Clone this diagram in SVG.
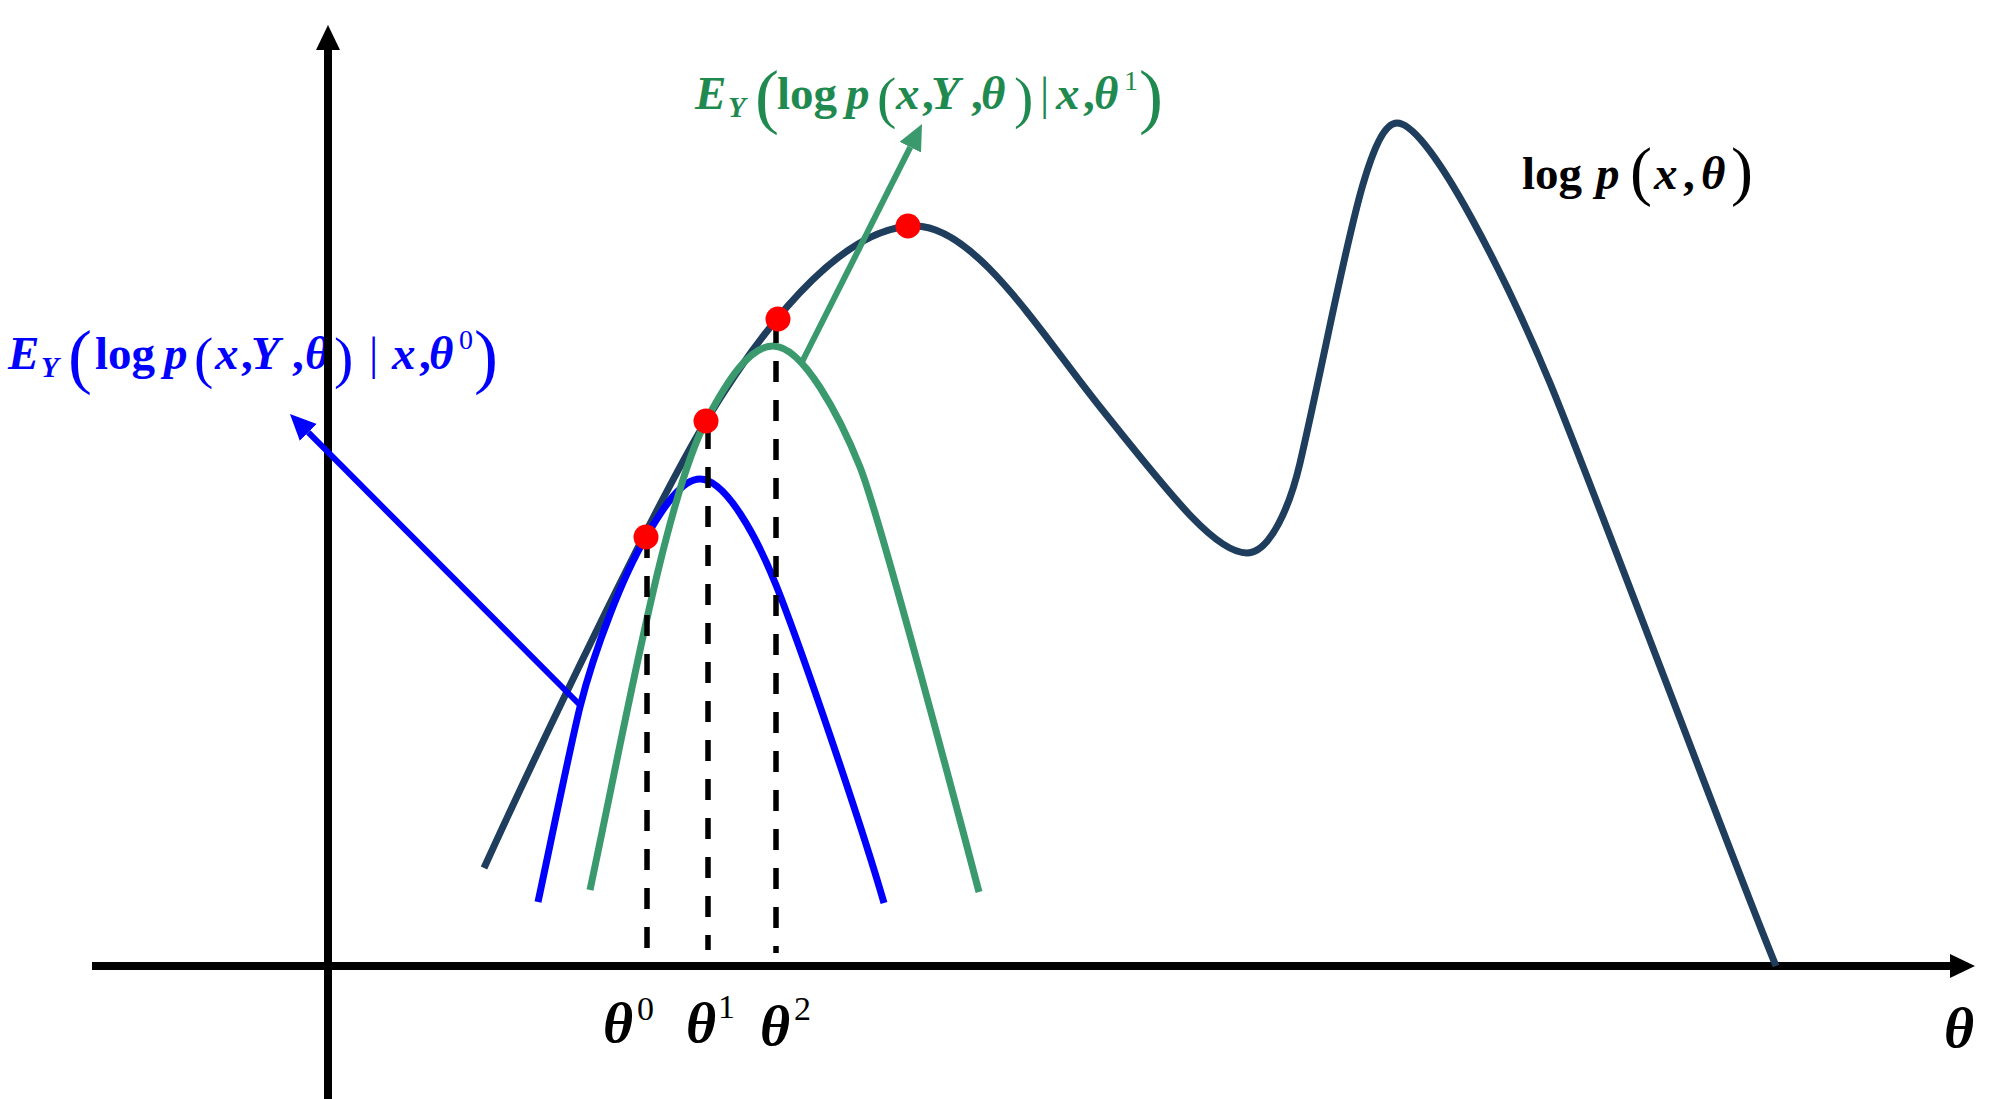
<svg xmlns="http://www.w3.org/2000/svg" width="2000" height="1099" viewBox="0 0 2000 1099">
  <style>
    .lbl { font-family: "Liberation Serif", "Times New Roman", serif; }
    .bi { font-weight: bold; font-style: italic; font-size: 47px; }
    .b { font-weight: bold; font-size: 47px; }
    .r { font-size: 46px; }
    .sub { font-weight: bold; font-style: italic; font-size: 29px; }
    .sup { font-size: 28px; }
    .bigp { font-size: 72px; }
    .midp { font-size: 58px; }
    .bigp2 { font-size: 66px; }
    .th { font-weight: bold; font-style: italic; font-size: 58px; }
    .thsup { font-size: 34px; }
    .axis { stroke: #000; stroke-width: 8; fill: none; }
    .curve { fill: none; stroke-width: 7; stroke-linecap: butt; stroke-linejoin: round; }
    .dash { stroke: #000; stroke-width: 5.5; stroke-dasharray: 21 18; fill: none; }
    .dot { fill: #FF0000; }
  </style>
  <defs>
    <marker id="headBlack" markerUnits="userSpaceOnUse" markerWidth="26" markerHeight="26" refX="0" refY="12" orient="auto">
      <path d="M0,0 L25,12 L0,24 z" fill="#000"/>
    </marker>
    <marker id="headBlue" markerUnits="userSpaceOnUse" markerWidth="28" markerHeight="26" refX="0" refY="12" orient="auto">
      <path d="M0,0 L26,12 L0,24 z" fill="#0000FF"/>
    </marker>
    <marker id="headGreen" markerUnits="userSpaceOnUse" markerWidth="28" markerHeight="26" refX="0" refY="12" orient="auto">
      <path d="M0,0 L26,12 L0,24 z" fill="#3A9A6E"/>
    </marker>
  </defs>
  <rect width="2000" height="1099" fill="#FFFFFF"/>

  <!-- Blue label (drawn under the axis) -->
  <g id="label-e-step-0" class="lbl" fill="#0000FF">
    <text class="bi" x="8" y="369">E</text>
    <text class="sub" x="41" y="377">Y</text>
    <text class="bigp" x="68" y="380">(</text>
    <text class="b" x="95" y="369">log</text>
    <text class="bi" x="164" y="369">p</text>
    <text class="midp" x="194" y="377">(</text>
    <text class="bi" x="215" y="369">x</text>
    <text class="b" x="241" y="369">,</text>
    <text class="bi" x="251" y="369">Y</text>
    <text class="b" x="292" y="369">,</text>
    <text class="bi" x="305" y="369">θ</text>
    <text class="midp" x="334" y="377">)</text>
    <text class="r" x="369" y="369">|</text>
    <text class="bi" x="392" y="369">x</text>
    <text class="b" x="419" y="369">,</text>
    <text class="bi" x="429" y="369">θ</text>
    <text class="sup" x="459" y="349">0</text>
    <text class="bigp" x="474" y="380">)</text>
  </g>

  <!-- Axes -->
  <g id="axes">
    <line id="x-axis" class="axis" x1="92" y1="966" x2="1950" y2="966" marker-end="url(#headBlack)"/>
    <line id="y-axis" class="axis" x1="328" y1="1099" x2="328" y2="50" marker-end="url(#headBlack)"/>
  </g>

  <!-- Curves -->
  <g id="curves">
    <path id="log-likelihood" class="curve" stroke="#1F3E5E"
      d="M 484 868 C 534 758, 655 505, 706 421 C 776 305, 850 226, 915 226 C 975 226, 1040 332, 1100 407 C 1170 494.5, 1215 553, 1247 553 C 1270 553, 1290 506, 1300 463 C 1340 290, 1365 123, 1397 123 C 1430 123, 1510 287, 1550 383 C 1590 479, 1740 880, 1776 966"/>
    <path id="q-theta0" class="curve" stroke="#0000FF"
      d="M 538 902 C 549 851, 569 752, 580 707 C 595 647, 624 574, 646 537 C 664 506, 682 479, 700 479 C 725 479, 756 535, 776 585 C 800 645, 860 820, 884 903"/>
    <path id="q-theta1" class="curve" stroke="#3A9A6E"
      d="M 590 890 C 627 716, 666 497, 706 421 C 728 379, 750 346, 773 346 C 803 346, 840 417, 860 467 C 880 517, 964 835, 979 892"/>
  </g>

  <!-- Connectors -->
  <g id="connectors">
    <line id="arrow-blue" x1="580" y1="705" x2="308.3" y2="432.4" stroke="#0000FF" stroke-width="6" marker-end="url(#headBlue)"/>
    <line id="arrow-green" x1="802" y1="362" x2="910.3" y2="147.2" stroke="#3A9A6E" stroke-width="6" marker-end="url(#headGreen)"/>
  </g>

  <!-- Dashed drop lines -->
  <g id="drop-lines">
    <line class="dash" x1="647" y1="537" x2="647" y2="958"/>
    <line class="dash" x1="708" y1="428" x2="708" y2="950"/>
    <line class="dash" x1="776" y1="322" x2="776" y2="953"/>
  </g>

  <!-- Points -->
  <g id="points">
    <circle id="pt0" class="dot" cx="646" cy="537" r="12.5"/>
    <circle id="pt1" class="dot" cx="706" cy="421" r="12.5"/>
    <circle id="pt2" class="dot" cx="778" cy="319" r="12.5"/>
    <circle id="pt3" class="dot" cx="908" cy="226" r="12.5"/>
  </g>

  <!-- Green label -->
  <g id="label-e-step-1" class="lbl" fill="#1F8A50">
    <text class="bi" x="695" y="109">E</text>
    <text class="sub" x="728" y="117">Y</text>
    <text class="bigp" x="755" y="120">(</text>
    <text class="b" x="777" y="109">log</text>
    <text class="bi" x="846" y="109">p</text>
    <text class="midp" x="877" y="117">(</text>
    <text class="bi" x="896" y="109">x</text>
    <text class="b" x="922" y="109">,</text>
    <text class="bi" x="931" y="109">Y</text>
    <text class="b" x="971" y="109">,</text>
    <text class="bi" x="981" y="109">θ</text>
    <text class="midp" x="1014" y="117">)</text>
    <text class="r" x="1040" y="109">|</text>
    <text class="bi" x="1056" y="109">x</text>
    <text class="b" x="1083" y="109">,</text>
    <text class="bi" x="1094" y="109">θ</text>
    <text class="sup" x="1124" y="90">1</text>
    <text class="bigp" x="1139" y="120">)</text>
  </g>

  <!-- Black label -->
  <g id="label-log-likelihood" class="lbl" fill="#000">
    <text class="b" x="1522" y="189">log</text>
    <text class="bi" x="1596" y="189">p</text>
    <text class="bigp2" x="1630" y="193">(</text>
    <text class="bi" x="1654" y="189">x</text>
    <text class="b" x="1683" y="189">,</text>
    <text class="bi" x="1701" y="189">θ</text>
    <text class="bigp2" x="1731" y="193">)</text>
  </g>

  <!-- Axis tick labels -->
  <g id="theta-labels" class="lbl" fill="#000">
    <text class="th" x="603" y="1042">θ</text>
    <text class="thsup" x="637" y="1020">0</text>
    <text class="th" x="686" y="1042">θ</text>
    <text class="thsup" x="718" y="1018">1</text>
    <text class="th" x="760" y="1045">θ</text>
    <text class="thsup" x="794" y="1020">2</text>
    <text class="th" x="1944" y="1047">θ</text>
  </g>
</svg>
